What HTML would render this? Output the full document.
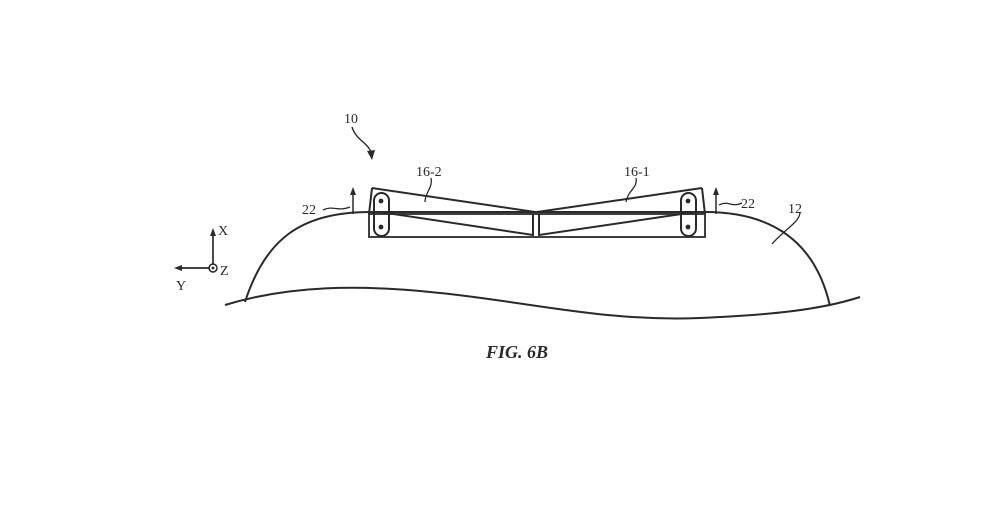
<!DOCTYPE html>
<html><head><style>body{margin:0;background:#fff}svg{display:block}</style></head><body>
<svg width="984" height="506" viewBox="0 0 984 506" xmlns="http://www.w3.org/2000/svg" font-family="Liberation Serif, serif" fill="none" stroke="#2a2a2a" stroke-width="2">
<path d="M245 302 C265 240 300 212 370 212 L705 212 C770 212 815 240 830 306"/>
<path d="M225 305 C290 285 360 285 430 292 C520 300 600 322 700 318 C770 315 820 310 860 297"/>
<rect x="369" y="214" width="336" height="23" stroke-width="1.8"/>
<path d="M372 188 L535 212 M372 188 L369 214 M380 212 L533 235 L533 214"/>
<path d="M702 188 L537 212 M702 188 L705 214 M695 212 L539 235 L539 214"/>
<rect x="374" y="193" width="15" height="43" rx="7.5"/>
<rect x="681" y="193" width="15" height="43" rx="7.5"/>
<g fill="#2a2a2a" stroke="none"><circle cx="381" cy="201" r="2.4"/><circle cx="381" cy="227" r="2.4"/><circle cx="688" cy="201" r="2.4"/><circle cx="688" cy="227" r="2.4"/></g>
<path d="M353 214 V190 M716 214 V190" stroke-width="1.5"/>
<path d="M350 195 L353 187 L356 195 Z M713 195 L716 187 L719 195 Z" fill="#2a2a2a" stroke="none"/>
<path d="M323 210 C333 205 338 212 350 207 M719 205 C728 200 732 208 742 203" stroke-width="1.3"/>
<path d="M352 127 C356 140 368 143 371 152" stroke-width="1.4"/>
<path d="M367 151 L372 160 L375 150 Z" fill="#2a2a2a" stroke="none"/>
<path d="M431 178 C433 188 425 192 425 202 M636 178 C638 188 628 190 626 202 M800 212 C800 222 786 228 772 244" stroke-width="1.3"/>
<path d="M213 265 V232 M210 268 H180" stroke-width="1.7"/>
<path d="M210 236 L213 228 L216 236 Z M182 265 L174 268 L182 271 Z" fill="#2a2a2a" stroke="none"/>
<circle cx="213" cy="268" r="4" stroke-width="1.5"/><circle cx="213" cy="268" r="1.4" fill="#2a2a2a" stroke="none"/>
<g fill="#2a2a2a" stroke="none" font-size="14">
<text x="218" y="235">X</text><text x="220" y="275">Z</text><text x="176" y="290">Y</text>
<text x="344" y="123">10</text>
<text x="302" y="214">22</text><text x="741" y="208">22</text>
<text x="416" y="176">16-2</text><text x="624" y="176">16-1</text>
<text x="788" y="213">12</text>
<text x="486" y="358" font-size="18" font-weight="bold" font-style="italic">FIG. 6B</text>
</g>
</svg>
</body></html>
